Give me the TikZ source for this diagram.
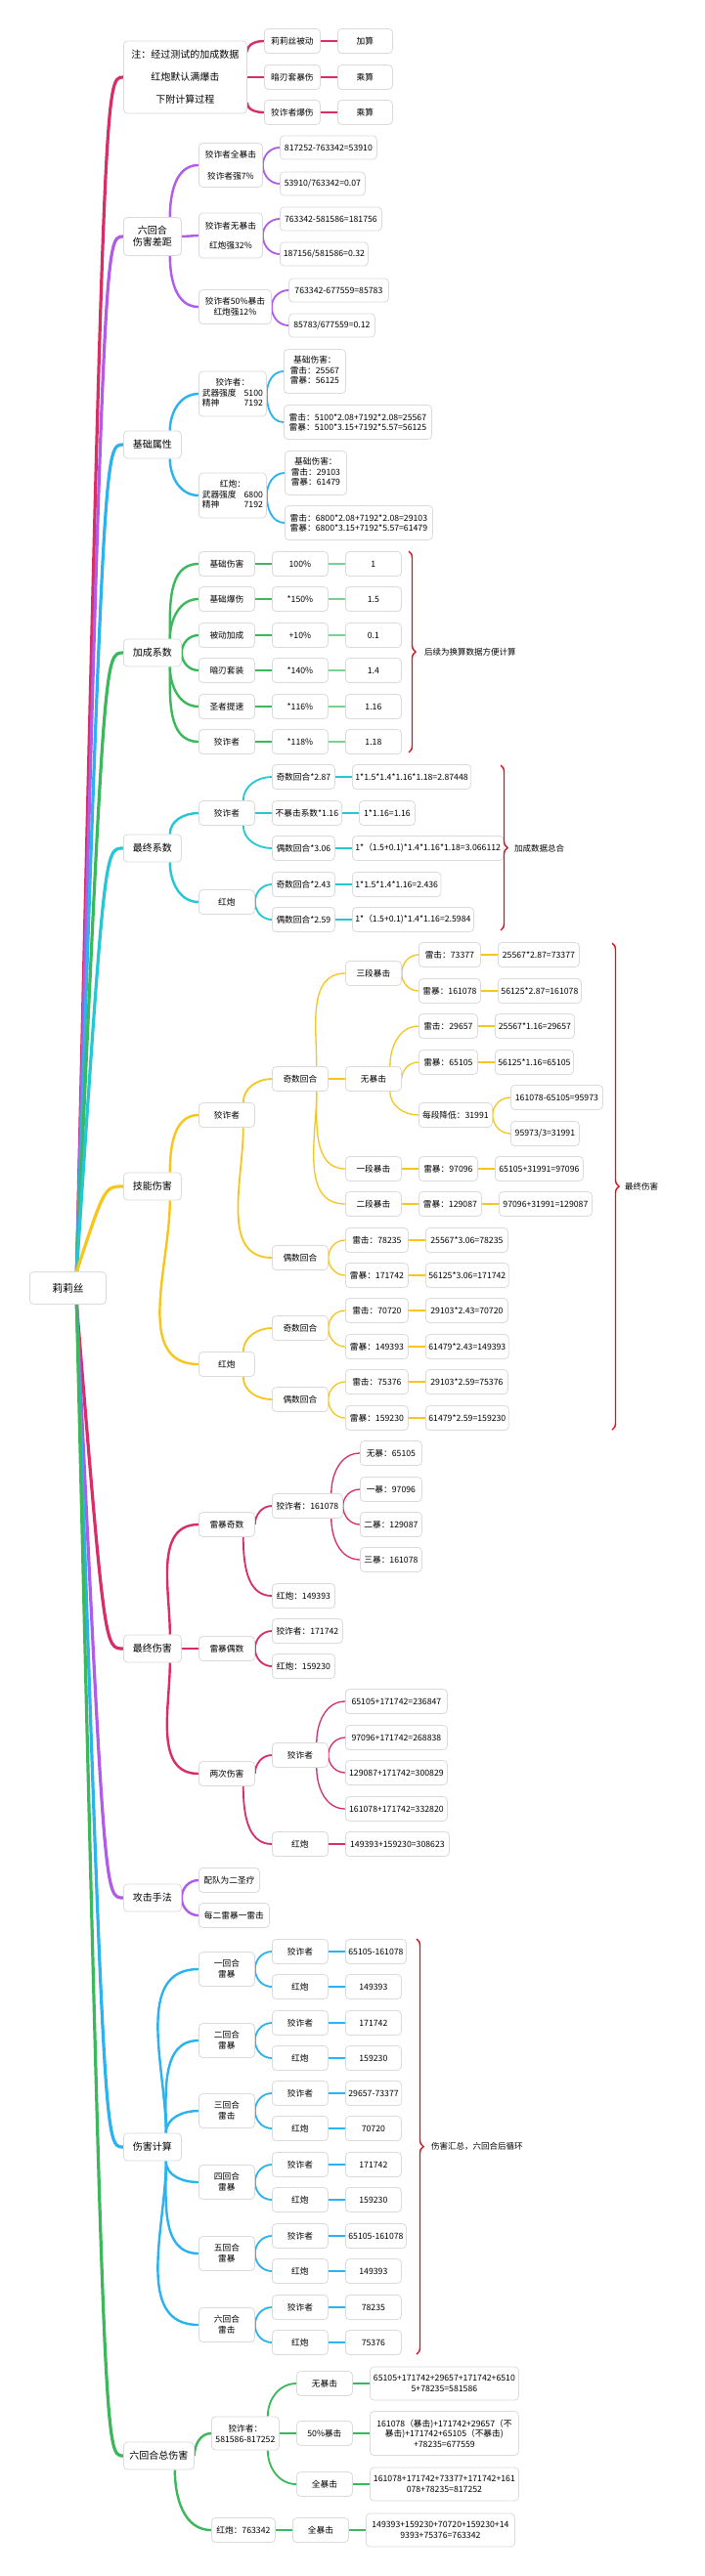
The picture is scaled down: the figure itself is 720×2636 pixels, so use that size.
\documentclass[tikz,border=0pt]{standalone}
\usepackage{fontspec}
\setmainfont{Noto Sans CJK SC}
\usetikzlibrary{backgrounds,decorations.pathreplacing}
\definecolor{crim}{RGB}{214,46,101}
\definecolor{purp}{RGB}{176,92,230}
\definecolor{sky}{RGB}{44,178,236}
\definecolor{grn}{RGB}{60,184,92}
\definecolor{grnl}{RGB}{122,208,144}
\definecolor{cyn}{RGB}{38,198,212}
\definecolor{ylw}{RGB}{246,198,28}
\definecolor{brred}{RGB}{212,22,34}
\newcommand{\fsz}[2]{\fontsize{#1}{#2}\selectfont}

\begin{document}
\begin{tikzpicture}[x=1pt, y=1pt,
  bx/.style={draw=black!14, fill=white, rounded corners=4pt, line width=0.8pt,
    anchor=west, minimum width=57pt, minimum height=25pt, inner xsep=3pt,
    inner ysep=1pt, align=center, font=\fsz{8.7}{11}},
  lvl/.style={bx, minimum width=59pt, minimum height=28pt, font=\fsz{10}{12}},
  l1/.style={line width=3.2pt},
  l2/.style={line width=2.4pt},
  l3/.style={line width=1.8pt},
  l4/.style={line width=1.3pt},
  cu/.style={out=90, in=180},
  cd/.style={out=-90, in=180},
  rbrace/.style={draw=brred, line width=1.4pt, decorate,
    decoration={brace, amplitude=7pt}},
  bnote/.style={anchor=west, inner sep=0pt, font=\fsz{8.5}{10}}]
  \begin{scope}[on background layer]
    \fill[white] (0,0) rectangle (720,-2636);
  \end{scope}
  \useasboundingbox (0,0) rectangle (720,-2636);

  % root and first level
  \node[lvl, minimum width=78pt, minimum height=33pt, font=\fsz{10.7}{12}] (root) at (30,-1318) {莉莉丝};
  \node[lvl, minimum width=126pt, minimum height=74pt, font=\fsz{10}{23}] (note) at (126,-79) {注：经过测试的加成数据\\红炮默认满爆击\\下附计算过程};
  \node[lvl, minimum height=39pt] (gap) at (126,-242) {六回合\\伤害差距};
  \node[lvl] (attr) at (126,-455) {基础属性};
  \node[lvl] (coef) at (126,-668) {加成系数};
  \node[lvl] (fin) at (126,-868) {最终系数};
  \node[lvl] (skill) at (126,-1214) {技能伤害};
  \node[lvl] (dmg) at (126,-1687) {最终伤害};
  \node[lvl] (atk) at (126,-1942) {攻击手法};
  \node[lvl] (calc) at (126,-2197) {伤害计算};
  \node[lvl, minimum width=72pt] (total) at (126,-2513) {六回合总伤害};
  \begin{scope}[on background layer]
    \foreach \n/\c in {note/crim,gap/purp,attr/sky,coef/grn,fin/cyn,skill/ylw}
      \draw[l1,\c] ([xshift=9pt]root.north) .. controls ([xshift=-19pt]\n.west) .. (\n.west);
    \foreach \n/\c in {dmg/crim,atk/purp,calc/sky,total/grn}
      \draw[l1,\c] ([xshift=9pt]root.south) .. controls ([xshift=-19pt]\n.west) .. (\n.west);
  \end{scope}

  % note
  \foreach \i/\y/\a/\b in {1/42/莉莉丝被动/加算,2/79/暗刃套暴伤/乘算,3/115/狡诈者爆伤/乘算}{
    \node[bx] (nt\i) at (270,-\y) {\a};
    \node[bx, minimum width=56pt] (ntv\i) at (345,-\y) {\b};
  }
  \begin{scope}[on background layer]
    \draw[l2,crim] ([yshift=26pt]note.east) to[cu] (nt1.west);
    \draw[l2,crim] (note.east) -- (nt2.west);
    \draw[l2,crim] ([yshift=-26pt]note.east) to[cd] (nt3.west);
    \foreach \i in {1,2,3} \draw[l3,crim] (nt\i.east) -- (ntv\i.west);
  \end{scope}

  % six round gap
  \node[bx, minimum width=65pt, minimum height=45pt, font=\fsz{8.7}{22}] (g1) at (203,-169) {狡诈者全暴击\\狡诈者强7\%};
  \node[bx, minimum width=99pt, minimum height=24pt] (g1a) at (286,-151) {817252-763342=53910};
  \node[bx, minimum width=87pt, minimum height=24pt] (g1b) at (286,-188) {53910/763342=0.07};
  \node[bx, minimum width=65pt, minimum height=46pt, font=\fsz{8.7}{20}] (g2) at (203,-241) {狡诈者无暴击\\红炮强32\%};
  \node[bx, minimum width=104pt, minimum height=24pt] (g2a) at (286,-224) {763342-581586=181756};
  \node[bx, minimum width=90pt, minimum height=24pt] (g2b) at (286,-260) {187156/581586=0.32};
  \node[bx, minimum width=74pt, minimum height=35pt] (g3) at (203,-314) {狡诈者50\%暴击\\红炮强12\%};
  \node[bx, minimum width=102pt, minimum height=24pt] (g3a) at (295,-297) {763342-677559=85783};
  \node[bx, minimum width=88pt, minimum height=24pt] (g3b) at (295,-333) {85783/677559=0.12};
  \begin{scope}[on background layer]
    \draw[l2,purp] ([xshift=-12pt]gap.north east) to[cu] (g1.west);
    \draw[l2,purp] (gap.east) -- (g2.west);
    \draw[l2,purp] ([xshift=-12pt]gap.south east) to[cd] (g3.west);
    \foreach \i in {1,2,3}{
      \draw[l3,purp] (g\i.east) to[cu] (g\i a.west);
      \draw[l3,purp] (g\i.east) to[cd] (g\i b.west);
    }
  \end{scope}

  % base attributes
  \node[bx, minimum width=69pt, minimum height=46pt, font=\fsz{8.7}{10.5}] (a1) at (203,-403)
    {\begin{tabular}{@{}l@{\hspace{8pt}}r@{}}\multicolumn{2}{@{}c@{}}{狡诈者：}\\武器强度&5100\\精神&7192\end{tabular}};
  \node[bx, minimum width=63pt, minimum height=45pt, font=\fsz{8.7}{10.7}] (a1a) at (290,-380)
    {\begin{tabular}{@{}l@{}}\multicolumn{1}{@{}c@{}}{基础伤害：}\\雷击：25567\\雷暴：56125\end{tabular}};
  \node[bx, minimum width=151pt, minimum height=35pt, align=left, font=\fsz{8.7}{10}] (a1b) at (290,-432)
    {雷击：5100*2.08+7192*2.08=25567\\雷暴：5100*3.15+7192*5.57=56125};
  \node[bx, minimum width=69pt, minimum height=46pt, font=\fsz{8.7}{10.5}] (a2) at (203,-507)
    {\begin{tabular}{@{}l@{\hspace{8pt}}r@{}}\multicolumn{2}{@{}c@{}}{红炮：}\\武器强度&6800\\精神&7192\end{tabular}};
  \node[bx, minimum width=63pt, minimum height=45pt, font=\fsz{8.7}{10.7}] (a2a) at (291,-484)
    {\begin{tabular}{@{}l@{}}\multicolumn{1}{@{}c@{}}{基础伤害：}\\雷击：29103\\雷暴：61479\end{tabular}};
  \node[bx, minimum width=151pt, minimum height=35pt, align=left, font=\fsz{8.7}{10}] (a2b) at (291,-535)
    {雷击：6800*2.08+7192*2.08=29103\\雷暴：6800*3.15+7192*5.57=61479};
  \begin{scope}[on background layer]
    \draw[l2,sky] ([xshift=-12pt]attr.north east) to[cu] (a1.west);
    \draw[l2,sky] ([xshift=-12pt]attr.south east) to[cd] (a2.west);
    \foreach \i in {1,2}{
      \draw[l3,sky] (a\i.east) to[cu] (a\i a.west);
      \draw[l3,sky] (a\i.east) to[cd] (a\i b.west);
    }
  \end{scope}

  % bonus coefficients
  \foreach \i/\y/\a/\b/\c in {1/577/基础伤害/100\%/1,2/613/基础爆伤/*150\%/1.5,3/650/被动加成/+10\%/0.1,
      4/686/暗刃套装/*140\%/1.4,5/723/圣者提速/*116\%/1.16,6/759/狡诈者/*118\%/1.18}{
    \node[bx] (c\i) at (203,-\y) {\a};
    \node[bx] (cp\i) at (278,-\y) {\b};
    \node[bx] (cv\i) at (353,-\y) {\c};
  }
  \begin{scope}[on background layer]
    \foreach \i in {1,2} \draw[l2,grn] ([xshift=-12pt]coef.north east) to[cu] (c\i.west);
    \draw[l2,grn] (coef.east) to[cu] (c3.west);
    \draw[l2,grn] (coef.east) to[cd] (c4.west);
    \foreach \i in {5,6} \draw[l2,grn] ([xshift=-12pt]coef.south east) to[cd] (c\i.west);
    \foreach \i in {1,...,6}{
      \draw[l3,grn] (c\i.east) -- (cp\i.west);
      \draw[l3,grnl] (cp\i.east) -- (cv\i.west);
    }
  \end{scope}
  \draw[rbrace] (418,-564) -- (418,-770);
  \node[bnote] (cbr) at (434,-667) {后续为换算数据方便计算};

  % final coefficients
  \node[bx] (f1) at (203,-832) {狡诈者};
  \node[bx, minimum width=64pt] (f1a) at (278,-795) {奇数回合*2.87};
  \node[bx, minimum width=113pt] (f1av) at (360,-795) {1*1.5*1.4*1.16*1.18=2.87448};
  \node[bx, minimum width=71pt] (f1b) at (278,-832) {不暴击系数*1.16};
  \node[bx] (f1bv) at (367,-832) {1*1.16=1.16};
  \node[bx, minimum width=64pt] (f1c) at (278,-868) {偶数回合*3.06};
  \node[bx, minimum width=142pt] (f1cv) at (360,-868) {1*（1.5+0.1)*1.4*1.16*1.18=3.066112};
  \node[bx] (f2) at (203,-923) {红炮};
  \node[bx, minimum width=64pt] (f2a) at (278,-905) {奇数回合*2.43};
  \node[bx, minimum width=84pt] (f2av) at (360,-905) {1*1.5*1.4*1.16=2.436};
  \node[bx, minimum width=64pt] (f2b) at (278,-941) {偶数回合*2.59};
  \node[bx, minimum width=115pt] (f2bv) at (360,-941) {1*（1.5+0.1)*1.4*1.16=2.5984};
  \begin{scope}[on background layer]
    \draw[l2,cyn] ([xshift=-12pt]fin.north east) to[cu] (f1.west);
    \draw[l2,cyn] ([xshift=-12pt]fin.south east) to[cd] (f2.west);
    \draw[l3,cyn] ([xshift=-12pt]f1.north east) to[cu] (f1a.west);
    \draw[l3,cyn] (f1.east) -- (f1b.west);
    \draw[l3,cyn] ([xshift=-12pt]f1.south east) to[cd] (f1c.west);
    \draw[l3,cyn] (f2.east) to[cu] (f2a.west);
    \draw[l3,cyn] (f2.east) to[cd] (f2b.west);
    \foreach \n in {f1a,f1b,f1c,f2a,f2b} \draw[l4,cyn] (\n.east) -- (\n v.west);
  \end{scope}
  \draw[rbrace] (512,-783) -- (512,-952);
  \node[bnote] (fbr) at (526,-868) {加成数据总合};

  % skill damage
  \node[bx] (s1) at (203,-1141) {狡诈者};
  \node[bx] (s1o) at (278,-1104) {奇数回合};
  \node[bx] (s1o3) at (353,-996) {三段暴击};
  \node[bx, minimum width=63pt] (s1o3a) at (428,-977) {雷击：73377};
  \node[bx, minimum width=83pt] (s1o3af) at (509,-977) {25567*2.87=73377};
  \node[bx, minimum width=63pt] (s1o3b) at (428,-1014) {雷暴：161078};
  \node[bx, minimum width=85pt] (s1o3bf) at (509,-1014) {56125*2.87=161078};
  \node[bx] (s1o0) at (353,-1104) {无暴击};
  \node[bx, minimum width=60pt] (s1o0a) at (428,-1050) {雷击：29657};
  \node[bx, minimum width=81pt] (s1o0af) at (506,-1050) {25567*1.16=29657};
  \node[bx, minimum width=60pt] (s1o0b) at (428,-1087) {雷暴：65105};
  \node[bx, minimum width=78pt] (s1o0bf) at (506,-1087) {56125*1.16=65105};
  \node[bx, minimum width=75pt] (s1o0c) at (428,-1141) {每段降低：31991};
  \node[bx, minimum width=94pt] (s1o0c1) at (522,-1123) {161078-65105=95973};
  \node[bx, minimum width=70pt] (s1o0c2) at (522,-1160) {95973/3=31991};
  \node[bx] (s1o1) at (353,-1196) {一段暴击};
  \node[bx, minimum width=60pt] (s1o1a) at (428,-1196) {雷暴：97096};
  \node[bx, minimum width=90pt] (s1o1af) at (506,-1196) {65105+31991=97096};
  \node[bx] (s1o2) at (353,-1232) {二段暴击};
  \node[bx, minimum width=64pt] (s1o2a) at (428,-1232) {雷暴：129087};
  \node[bx, minimum width=95pt] (s1o2af) at (510,-1232) {97096+31991=129087};
  \node[bx] (s1e) at (278,-1287) {偶数回合};
  \node[bx] (s2) at (203,-1396) {红炮};
  \node[bx] (s2o) at (278,-1359) {奇数回合};
  \node[bx] (s2e) at (278,-1432) {偶数回合};
  \foreach \n/\y/\a/\b in {s1ea/1269/雷击：78235/25567*3.06=78235,s1eb/1305/雷暴：171742/56125*3.06=171742,
      s2oa/1341/雷击：70720/29103*2.43=70720,s2ob/1378/雷暴：149393/61479*2.43=149393,
      s2ea/1414/雷击：75376/29103*2.59=75376,s2eb/1451/雷暴：159230/61479*2.59=159230}{
    \node[bx, minimum width=64pt] (\n) at (353,-\y) {\a};
    \node[bx, minimum width=84pt] (\n f) at (435,-\y) {\b};
  }
  \begin{scope}[on background layer]
    \draw[l2,ylw] ([xshift=-12pt]skill.north east) to[cu] (s1.west);
    \draw[l2,ylw] ([xshift=-12pt]skill.south east) to[cd] (s2.west);
    \draw[l3,ylw] ([xshift=-12pt]s1.north east) to[cu] (s1o.west);
    \draw[l3,ylw] ([xshift=-12pt]s1.south east) to[cd] (s1e.west);
    \draw[l3,ylw] ([xshift=-12pt]s2.north east) to[cu] (s2o.west);
    \draw[l3,ylw] ([xshift=-12pt]s2.south east) to[cd] (s2e.west);
    \draw[l4,ylw] ([xshift=-12pt]s1o.north east) to[cu] (s1o3.west);
    \draw[l4,ylw] (s1o.east) -- (s1o0.west);
    \draw[l4,ylw] ([xshift=-12pt]s1o.south east) to[cd] (s1o1.west);
    \draw[l4,ylw] ([xshift=-12pt]s1o.south east) to[cd] (s1o2.west);
    \draw[l4,ylw] (s1o3.east) to[cu] (s1o3a.west);
    \draw[l4,ylw] (s1o3.east) to[cd] (s1o3b.west);
    \draw[l4,ylw] ([xshift=-12pt]s1o0.north east) to[cu] (s1o0a.west);
    \draw[l4,ylw] (s1o0.east) to[cu] (s1o0b.west);
    \draw[l4,ylw] ([xshift=-12pt]s1o0.south east) to[cd] (s1o0c.west);
    \draw[l4,ylw] (s1o0c.east) to[cu] (s1o0c1.west);
    \draw[l4,ylw] (s1o0c.east) to[cd] (s1o0c2.west);
    \foreach \n in {s1o1,s1o2} \draw[l4,ylw] (\n.east) -- (\n a.west);
    \foreach \p in {s1e,s2o,s2e}{
      \draw[l4,ylw] (\p.east) to[cu] (\p a.west);
      \draw[l4,ylw] (\p.east) to[cd] (\p b.west);
    }
    \foreach \n in {s1o3a,s1o3b,s1o0a,s1o0b,s1o1a,s1o2a,s1ea,s1eb,s2oa,s2ob,s2ea,s2eb}
      \draw[l4,ylw] (\n.east) -- (\n f.west);
  \end{scope}
  \draw[rbrace] (626,-965) -- (626,-1463);
  \node[bnote] (sbr) at (639,-1214) {最终伤害};

  % final damage
  \node[bx] (d1) at (203,-1560) {雷暴奇数};
  \node[bx, minimum width=72pt] (d1a) at (278,-1541) {狡诈者：161078};
  \foreach \i/\y/\a in {1/1487/无暴：65105,2/1524/一暴：97096,3/1560/二暴：129087,4/1596/三暴：161078}
    \node[bx, minimum width=63pt] (d1a\i) at (368,-\y) {\a};
  \node[bx, minimum width=64pt] (d1b) at (278,-1633) {红炮：149393};
  \node[bx] (d2) at (203,-1687) {雷暴偶数};
  \node[bx, minimum width=72pt] (d2a) at (278,-1669) {狡诈者：171742};
  \node[bx, minimum width=64pt] (d2b) at (278,-1705) {红炮：159230};
  \node[bx] (d3) at (203,-1815) {两次伤害};
  \node[bx] (d3a) at (278,-1796) {狡诈者};
  \foreach \i/\y/\a in {1/1741/65105+171742=236847,2/1778/97096+171742=268838,
      3/1814/129087+171742=300829,4/1851/161078+171742=332820}
    \node[bx, minimum width=104pt] (d3a\i) at (353,-\y) {\a};
  \node[bx] (d3b) at (278,-1887) {红炮};
  \node[bx, minimum width=106pt] (d3bf) at (353,-1887) {149393+159230=308623};
  \begin{scope}[on background layer]
    \draw[l2,crim] ([xshift=-12pt]dmg.north east) to[cu] (d1.west);
    \draw[l2,crim] (dmg.east) -- (d2.west);
    \draw[l2,crim] ([xshift=-12pt]dmg.south east) to[cd] (d3.west);
    \draw[l3,crim] (d1.east) to[cu] (d1a.west);
    \draw[l3,crim] ([xshift=-12pt]d1.south east) to[cd] (d1b.west);
    \draw[l3,crim] (d2.east) to[cu] (d2a.west);
    \draw[l3,crim] (d2.east) to[cd] (d2b.west);
    \draw[l3,crim] (d3.east) to[cu] (d3a.west);
    \draw[l3,crim] ([xshift=-12pt]d3.south east) to[cd] (d3b.west);
    \draw[l4,crim] ([xshift=-12pt]d1a.north east) to[cu] (d1a1.west);
    \draw[l4,crim] (d1a.east) to[cu] (d1a2.west);
    \draw[l4,crim] (d1a.east) to[cd] (d1a3.west);
    \draw[l4,crim] ([xshift=-12pt]d1a.south east) to[cd] (d1a4.west);
    \draw[l4,crim] ([xshift=-12pt]d3a.north east) to[cu] (d3a1.west);
    \draw[l4,crim] (d3a.east) to[cu] (d3a2.west);
    \draw[l4,crim] (d3a.east) to[cd] (d3a3.west);
    \draw[l4,crim] ([xshift=-12pt]d3a.south east) to[cd] (d3a4.west);
    \draw[l4,crim] (d3b.east) -- (d3bf.west);
  \end{scope}

  % attack pattern
  \node[bx, minimum width=62pt] (h1) at (203,-1924) {配队为二圣疗};
  \node[bx, minimum width=72pt] (h2) at (203,-1960) {每二雷暴一雷击};
  \begin{scope}[on background layer]
    \draw[l2,purp] (atk.east) to[cu] (h1.west);
    \draw[l2,purp] (atk.east) to[cd] (h2.west);
  \end{scope}

  % damage per round
  \foreach \i/\y/\p/\k/\a/\b in {1/2015/一/雷暴/65105-161078/149393,2/2088/二/雷暴/171742/159230,
      3/2160/三/雷击/29657-73377/70720,4/2233/四/雷暴/171742/159230,
      5/2306/五/雷暴/65105-161078/149393,6/2379/六/雷击/78235/75376}{
    \node[bx, minimum height=35pt] (r\i) at (203,-\y) {{\p}回合\\{\k}};
    \node[bx] (rj\i) at (278,{-\y+18}) {狡诈者};
    \node[bx] (rh\i) at (278,{-\y-18}) {红炮};
    \node[bx] (rj\i v) at (353,{-\y+18}) {\a};
    \node[bx] (rh\i v) at (353,{-\y-18}) {\b};
  }
  \begin{scope}[on background layer]
    \foreach \i in {1,2,3} \draw[l2,sky] ([xshift=-16pt]calc.north east) to[cu] (r\i.west);
    \foreach \i in {4,5,6} \draw[l2,sky] ([xshift=-16pt]calc.south east) to[cd] (r\i.west);
    \foreach \i in {1,...,6}{
      \draw[l3,sky] (r\i.east) to[cu] (rj\i.west) (rj\i.east) -- (rj\i v.west);
      \draw[l3,sky] (r\i.east) to[cd] (rh\i.west) (rh\i.east) -- (rh\i v.west);
    }
  \end{scope}
  \draw[rbrace] (426,-1984) -- (426,-2409);
  \node[bnote] (rbr) at (441,-2196) {伤害汇总，六回合后循环};

  % six round total
  \node[bx, minimum width=69pt, minimum height=34pt] (t1) at (216,-2490) {狡诈者：\\581586-817252};
  \node[bx] (t1a) at (303,-2439) {无暴击};
  \node[bx] (t1b) at (303,-2490) {50\%暴击};
  \node[bx] (t1c) at (303,-2542) {全暴击};
  \node[bx, minimum width=152pt, minimum height=34pt, font=\fsz{8.7}{10.5}] (t1af) at (378,-2439)
    {65105+171742+29657+171742+6510\\5+78235=581586};
  \node[bx, minimum width=152pt, minimum height=45pt, font=\fsz{8.7}{10.5}] (t1bf) at (378,-2490)
    {161078（暴击)+171742+29657（不\\暴击)+171742+65105（不暴击)\\+78235=677559};
  \node[bx, minimum width=152pt, minimum height=34pt, font=\fsz{8.7}{10.5}] (t1cf) at (378,-2542)
    {161078+171742+73377+171742+161\\078+78235=817252};
  \node[bx, minimum width=65pt] (t2) at (216,-2589) {红炮：763342};
  \node[bx] (t2a) at (299,-2589) {全暴击};
  \node[bx, minimum width=152pt, minimum height=34pt, font=\fsz{8.7}{10.5}] (t2af) at (374,-2589)
    {149393+159230+70720+159230+14\\9393+75376=763342};
  \begin{scope}[on background layer]
    \draw[l2,grn] (total.east) to[cu] (t1.west);
    \draw[l2,grn] ([xshift=-20pt]total.south east) to[cd] (t2.west);
    \draw[l3,grn] ([xshift=-12pt]t1.north east) to[cu] (t1a.west);
    \draw[l3,grn] (t1.east) -- (t1b.west);
    \draw[l3,grn] ([xshift=-12pt]t1.south east) to[cd] (t1c.west);
    \draw[l3,grn] (t2.east) -- (t2a.west);
    \foreach \n in {t1a,t1b,t1c,t2a} \draw[l3,grn] (\n.east) -- (\n f.west);
  \end{scope}
\end{tikzpicture}
\end{document}
